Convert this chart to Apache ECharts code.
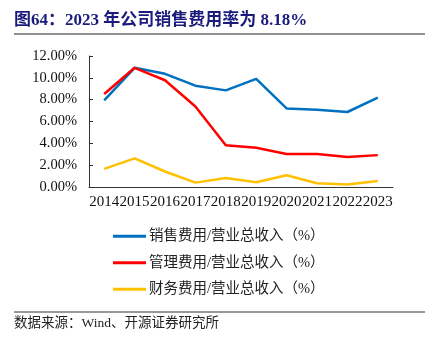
<!DOCTYPE html>
<html>
<head>
<meta charset="utf-8">
<script src="https://cdn.jsdelivr.net/npm/echarts@6/dist/echarts.min.js"></script>
<style>
html,body{margin:0;padding:0;background:#fff;}
#c{width:444px;height:346px;}
</style>
</head>
<body>
<div id="c"></div>
<script>
const categories = ['2014','2015','2016','2017','2018','2019','2020','2021','2022','2023'];
const salesRatio = [7.94, 10.92, 10.37, 9.28, 8.85, 9.91, 7.20, 7.08, 6.87, 8.18];
const adminRatio = [8.52, 10.92, 9.78, 7.38, 3.82, 3.60, 3.02, 3.02, 2.74, 2.92];
const financeRatio = [1.66, 2.62, 1.42, 0.40, 0.83, 0.43, 1.08, 0.34, 0.22, 0.55];
const seriesNames = ['销售费用/营业总收入（%）','管理费用/营业总收入（%）','财务费用/营业总收入（%）'];
const titleText = '图64：2023 年公司销售费用率为 8.18%';
const sourceText = '数据来源：Wind、开源证券研究所';

const serif = '"Liberation Serif","Times New Roman",serif';
const cjk = '"Liberation Serif","Noto Sans CJK SC",serif';

const chart = echarts.init(document.getElementById('c'), null, {renderer:'canvas'});
chart.setOption({
  backgroundColor:'#fff',
  animation:false,
  grid:{left:89, right:51, top:56, bottom:159},
  legend:{
    orient:'vertical', left:113, top:229, padding:0, itemWidth:33, itemHeight:3, itemGap:12,
    icon:'rect',
    textStyle:{fontFamily:cjk, fontSize:14.5, color:'#222', padding:[0,0,0,-2]},
    data:seriesNames
  },
  xAxis:{
    type:'category', data:categories, boundaryGap:true,
    axisLine:{lineStyle:{color:'#333', width:1}},
    axisTick:{inside:true, length:4, lineStyle:{color:'#333'}},
    axisLabel:{fontFamily:serif, fontSize:15, color:'#111', margin:8, interval:0}
  },
  yAxis:{
    type:'value', min:0, max:12, interval:2,
    splitLine:{show:false},
    axisLine:{show:true, lineStyle:{color:'#333', width:1}},
    axisTick:{show:true, inside:true, length:4, lineStyle:{color:'#333'}},
    axisLabel:{fontFamily:serif, fontSize:14.5, color:'#111', margin:12, formatter:v=>v.toFixed(2)+'%'}
  },
  series:[
    {name:seriesNames[0], type:'line', data:salesRatio, symbol:'none', lineStyle:{width:2.5, color:'#0070C0'}, itemStyle:{color:'#0070C0'}},
    {name:seriesNames[1], type:'line', data:adminRatio, symbol:'none', lineStyle:{width:2.5, color:'#FF0000'}, itemStyle:{color:'#FF0000'}},
    {name:seriesNames[2], type:'line', data:financeRatio, symbol:'none', lineStyle:{width:2.5, color:'#FFC000'}, itemStyle:{color:'#FFC000'}}
  ],
  graphic:[
    {type:'text', left:14, top:12, style:{text:titleText, font:'bold 17px '+cjk, fill:'#1b1b7e'}},
    {type:'rect', shape:{x:14, y:33.5, width:411, height:1}, style:{fill:'#222'}},
    {type:'rect', shape:{x:14, y:311, width:411, height:2}, style:{fill:'#999'}},
    {type:'text', left:14, top:317, style:{text:sourceText, font:'13.5px '+cjk, fill:'#222'}}
  ]
});
</script>
</body>
</html>
